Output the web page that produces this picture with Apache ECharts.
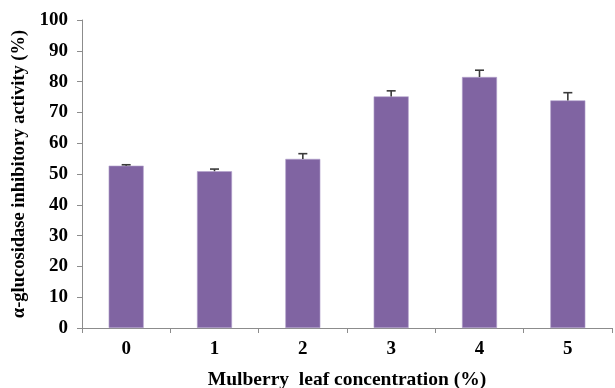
<!DOCTYPE html>
<html>
<head>
<meta charset="utf-8">
<script src="https://cdn.jsdelivr.net/npm/echarts@6/dist/echarts.min.js"></script>
<style>
  html, body { margin: 0; padding: 0; background: #fff; }
  #chart { width: 615px; height: 388px; }
</style>
</head>
<body>
<div id="chart"></div>
<script>
// Mulberry leaf concentration (%) on the x axis
var categories = ['0', '1', '2', '3', '4', '5'];
// Mean α-glucosidase inhibitory activity (%)
var activity = [52.7, 50.9, 54.9, 75.2, 81.5, 73.9];
// Standard deviation for each mean
var errors = [0.3, 0.7, 1.7, 1.8, 2.2, 2.5];
var yTicks = [0, 10, 20, 30, 40, 50, 60, 70, 80, 90, 100];

var serif = '"Liberation Serif", "Times New Roman", serif';
var axisGrey = '#8c8c8c';

var errorData = activity.map(function (v, i) { return [i, v, v + errors[i]]; });

var chart = echarts.init(document.getElementById('chart'));
chart.setOption({
  animation: false,
  grid: { left: 82, right: 3, top: 20, bottom: 60, containLabel: false, outerBoundsMode: 'none' },
  xAxis: {
    type: 'category',
    data: categories,
    name: 'Mulberry  leaf concentration (%)',
    nameLocation: 'middle',
    nameGap: 42,
    nameTextStyle: { fontFamily: serif, fontWeight: 'bold', fontSize: 19.5, color: '#000' },
    axisLine: { lineStyle: { color: axisGrey, width: 1 } },
    axisTick: { show: true, length: 5, lineStyle: { color: axisGrey } },
    axisLabel: { fontFamily: serif, fontWeight: 'bold', fontSize: 19, color: '#000', margin: 12 }
  },
  yAxis: {
    type: 'value',
    min: 0,
    max: 100,
    interval: 10,
    name: 'α-glucosidase inhibitory activity (%)',
    nameLocation: 'middle',
    nameGap: 48,
    nameTextStyle: { fontFamily: serif, fontWeight: 'bold', fontSize: 18.5, color: '#000' },
    axisLine: { show: true, lineStyle: { color: axisGrey, width: 1 } },
    axisTick: { show: true, length: 5, lineStyle: { color: axisGrey } },
    splitLine: { show: false },
    axisLabel: {
      fontFamily: serif, fontWeight: 'bold', fontSize: 19, color: '#000', margin: 14,
      formatter: function (v) { return yTicks.indexOf(v) >= 0 ? String(v) : ''; }
    }
  },
  series: [
    {
      type: 'bar',
      data: activity,
      barWidth: 35,
      itemStyle: { color: '#8064A2', borderColor: '#b3a2cc', borderWidth: 0.6 }
    },
    {
      type: 'custom',
      data: errorData,
      z: 5,
      renderItem: function (params, api) {
        var x = api.value(0);
        var base = api.coord([x, api.value(1)]);
        var top = api.coord([x, api.value(2)]);
        var cap = 4.5;
        var style = { stroke: '#3a3a3a', lineWidth: 1.6 };
        return {
          type: 'group',
          children: [
            { type: 'line', shape: { x1: base[0], y1: base[1], x2: top[0], y2: top[1] }, style: style },
            { type: 'line', shape: { x1: top[0] - cap, y1: top[1], x2: top[0] + cap, y2: top[1] }, style: style }
          ]
        };
      }
    }
  ]
});
</script>
</body>
</html>
